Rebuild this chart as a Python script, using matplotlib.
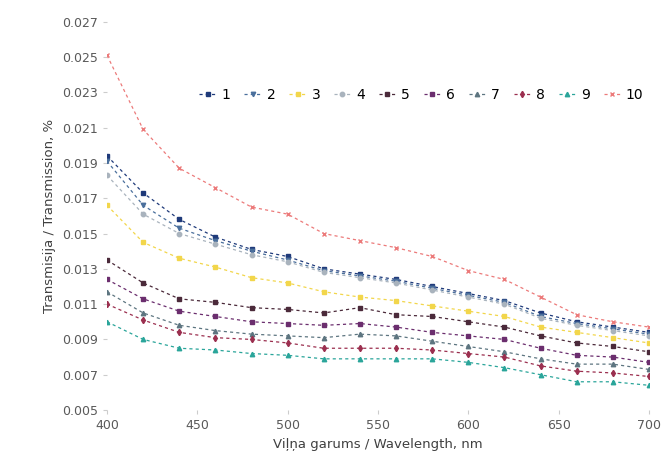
import numpy as np
import matplotlib
matplotlib.use('Agg')
import matplotlib.pyplot as plt
from matplotlib.ticker import FormatStrFormatter

# wavelengths, nm
wavelength = [400, 420, 440, 460, 480, 500, 520, 540, 560, 580, 600, 620, 640, 660, 680, 700]

s1 = [0.0194, 0.0173, 0.0158, 0.0148, 0.0141, 0.0137, 0.0130, 0.0127, 0.0124, 0.0120, 0.0116, 0.0112, 0.0105, 0.0100, 0.0097, 0.0094]
s2 = [0.0191, 0.0166, 0.0153, 0.0146, 0.0140, 0.0135, 0.0129, 0.0126, 0.0123, 0.0119, 0.0115, 0.0111, 0.0103, 0.0099, 0.0096, 0.0093]
s3 = [0.0166, 0.0145, 0.0136, 0.0131, 0.0125, 0.0122, 0.0117, 0.0114, 0.0112, 0.0109, 0.0106, 0.0103, 0.0097, 0.0094, 0.0091, 0.0088]
s4 = [0.0183, 0.0161, 0.0150, 0.0144, 0.0138, 0.0134, 0.0128, 0.0125, 0.0122, 0.0118, 0.0114, 0.0110, 0.0102, 0.0098, 0.0095, 0.0092]
s5 = [0.0135, 0.0122, 0.0113, 0.0111, 0.0108, 0.0107, 0.0105, 0.0108, 0.0104, 0.0103, 0.0100, 0.0097, 0.0092, 0.0088, 0.0086, 0.0083]
s6 = [0.0124, 0.0113, 0.0106, 0.0103, 0.0100, 0.0099, 0.0098, 0.0099, 0.0097, 0.0094, 0.0092, 0.0090, 0.0085, 0.0081, 0.0080, 0.0077]
s7 = [0.0117, 0.0105, 0.0098, 0.0095, 0.0093, 0.0092, 0.0091, 0.0093, 0.0092, 0.0089, 0.0086, 0.0083, 0.0079, 0.0076, 0.0076, 0.0073]
s8 = [0.0110, 0.0101, 0.0094, 0.0091, 0.0090, 0.0088, 0.0085, 0.0085, 0.0085, 0.0084, 0.0082, 0.0080, 0.0075, 0.0072, 0.0071, 0.0069]
s9 = [0.0100, 0.0090, 0.0085, 0.0084, 0.0082, 0.0081, 0.0079, 0.0079, 0.0079, 0.0079, 0.0077, 0.0074, 0.0070, 0.0066, 0.0066, 0.0064]
s10 = [0.0251, 0.0209, 0.0187, 0.0176, 0.0165, 0.0161, 0.0150, 0.0146, 0.0142, 0.0137, 0.0129, 0.0124, 0.0114, 0.0104, 0.0100, 0.0097]

labels = ['1', '2', '3', '4', '5', '6', '7', '8', '9', '10']
series = [s1, s2, s3, s4, s5, s6, s7, s8, s9, s10]
colors = ['#1f3a7a', '#4a6f9c', '#f2d64b', '#a9b3bd', '#4b2a3a',
          '#6b2e6e', '#5d7580', '#9b2f4f', '#2aa59a', '#ec7a7a']
markers = ['s', 'v', 's', 'o', 's', 's', '^', 'd', '^', 'x']

fig = plt.figure(figsize=(6.69, 4.74), dpi=100)
ax = fig.add_axes([0.16, 0.135, 0.81, 0.819])

for vals, lab, c, m in zip(series, labels, colors, markers):
    ax.plot(wavelength, vals, color=c, marker=m, markersize=3.2,
            linestyle=(0, (2.5, 2.5)), linewidth=0.9, label=lab)

ax.set_xlim(400, 700)
ax.set_ylim(0.005, 0.027)
ax.set_xticks(np.arange(400, 701, 50))
ax.set_yticks(np.arange(0.005, 0.0271, 0.002))
ax.yaxis.set_major_formatter(FormatStrFormatter('%.3f'))

for sp in ax.spines.values():
    sp.set_visible(False)
ax.tick_params(axis='both', colors='#cccccc', labelcolor='#595959', labelsize=9, length=3)

ax.set_xlabel('Viļņa garums / Wavelength, nm', fontsize=9.5, color='#404040')
ax.set_ylabel('Transmisija / Transmission, %', fontsize=9.5, color='#404040')

fig.legend(loc='center', bbox_to_anchor=(0.63, 0.80), ncol=10, frameon=False,
           fontsize=10, handlelength=1.2, handletextpad=0.4, columnspacing=1.0)

fig.savefig('out.png', dpi=100)
